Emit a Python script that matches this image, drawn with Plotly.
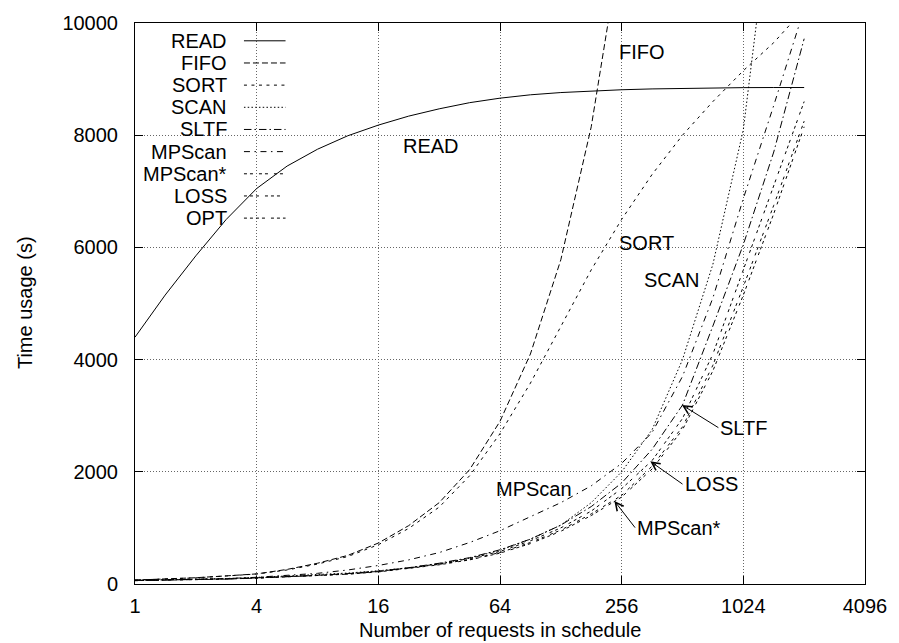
import math
import plotly.graph_objects as go

# ---------------- data ----------------
N = [1, 1.41, 2, 2.83, 4, 5.66, 8, 11.3, 16, 22.6, 32, 45.3, 64, 90.5, 128, 181,
     256, 362, 512, 724, 1024, 1448, 2048]

READ = [4400, 5150, 5850, 6500, 7050, 7450, 7750, 7990, 8180, 8340, 8470, 8580, 8660,
        8720, 8760, 8790, 8810, 8825, 8835, 8842, 8848, 8850, 8850]
FIFO = [70, 88, 112, 145, 180, 260, 370, 510, 730, 1040, 1450, 2040, 2900, 4100, 5780,
        8150, 11500]
SORT = [70, 87, 110, 143, 178, 250, 355, 490, 700, 990, 1370, 1930, 2680, 3580, 4600,
        5600, 6500, 7300, 8000, 8600, 9150, 9650, 10250]
SCAN = [65, 74, 84, 98, 118, 140, 165, 195, 235, 290, 360, 460, 600, 800, 1050, 1450,
        2000, 2750, 4000, 5700, 8100, 12500]
SLTF = [65, 72, 80, 92, 110, 130, 155, 185, 230, 290, 370, 470, 610, 800, 1050, 1380,
        1800, 2400, 3190, 4600, 6050, 7700, 9720]
MPSCAN = [65, 72, 82, 96, 120, 150, 190, 250, 330, 430, 560, 740, 950, 1200, 1450, 1750,
          2150, 2700, 3700, 5100, 6870, 8530, 10250]
MPSCAN_STAR = [60, 68, 76, 88, 106, 126, 150, 178, 220, 278, 350, 440, 560, 740, 960,
               1250, 1580, 2100, 2800, 3900, 5300, 6750, 8250]
LOSS = [62, 70, 78, 90, 108, 128, 152, 182, 225, 285, 360, 455, 580, 770, 1000, 1300,
        1700, 2200, 2950, 4100, 5600, 7100, 8600]
OPT = [60, 67, 75, 87, 105, 124, 147, 175, 215, 272, 342, 430, 550, 720, 940, 1220,
       1550, 2050, 2750, 3800, 5150, 6600, 8150]

X_TICKS = [1, 4, 16, 64, 256, 1024, 4096]
X_TICKTEXT = ["1", "4", "16", "64", "256", "1024", "4096"]
Y_TICKS = [0, 2000, 4000, 6000, 8000, 10000]
Y_TICKTEXT = ["0", "2000", "4000", "6000", "8000", "10000"]

NAMES = ["READ", "FIFO", "SORT", "SCAN", "SLTF", "MPScan", "MPScan*", "LOSS", "OPT"]
SERIES = [READ, FIFO, SORT, SCAN, SLTF, MPSCAN, MPSCAN_STAR, LOSS, OPT]

# gnuplot-like dash patterns
DASHES = ["solid", "6px,3px", "3px,4.5px", "1.5px,2.25px", "7.5px,3px,1.5px,3px",
          "6px,4.5px,1.5px,4.5px", "3px,3px,3px,6px", "3px,3px,3px,3px,3px,6px",
          "3px,3px,3px,3px,3px,3px,3px,6px"]

FONT = "Liberation Sans, Arial, Helvetica, sans-serif"
FS = 20

fig = go.Figure()
for name, ys, dash in zip(NAMES, SERIES, DASHES):
    fig.add_trace(go.Scatter(x=N[:len(ys)], y=ys, mode="lines", name=name,
                             line=dict(color="black", width=1, dash=dash),
                             showlegend=False, hoverinfo="skip"))

# plot area in pixels
L, R, T, B = 135, 872, 17, 584
W, H = R - L, B - T


def px(xp):
    return (xp - L) / W


def py(yp):
    return (B - yp) / H


annotations = []
shapes = []
# manual legend (text right aligned, sample on right)
for i, (name, dash) in enumerate(zip(NAMES, DASHES)):
    yy = 35 + i * 22.4
    annotations.append(dict(x=px(230), y=py(yy), xref="paper", yref="paper",
                            text=name, showarrow=False, xanchor="right",
                            yanchor="middle", font=dict(family=FONT, size=FS, color="black")))
    shapes.append(dict(type="line", xref="paper", yref="paper", x0=px(245), x1=px(287),
                       y0=py(yy), y1=py(yy), line=dict(color="black", width=1, dash=dash)))

LG2 = math.log10(2)


def lx(l2):
    return l2 * LG2


labels = [("READ", 4.38, 7800), ("FIFO", 7.915, 9489), ("SORT", 7.915, 6085),
          ("SCAN", 8.34, 5414)]
for t, l2, yv in labels:
    annotations.append(dict(x=lx(l2), y=yv, xref="x", yref="y", text=t, showarrow=False,
                            xanchor="left", yanchor="middle",
                            font=dict(family=FONT, size=FS, color="black")))
annotations.append(dict(x=lx(7.215), y=1693, xref="x", yref="y", text="MPScan",
                        showarrow=False, xanchor="right", yanchor="middle",
                        font=dict(family=FONT, size=FS, color="black")))

arrows = [("SLTF", 9.59, 2787, 8.99, 3192), ("LOSS", 9.0, 1781, 8.47, 2187),
          ("MPScan*", 8.22, 1005, 7.88, 1481)]
for t, tl2, ty, hl2, hy in arrows:
    annotations.append(dict(x=lx(hl2), y=hy, xref="x", yref="y", ax=lx(tl2), ay=ty,
                            axref="x", ayref="y", text=t, showarrow=True,
                            xanchor="left", yanchor="middle", arrowhead=5, arrowsize=1.6,
                            arrowwidth=1, arrowcolor="black", standoff=0, startstandoff=0,
                            font=dict(family=FONT, size=FS, color="black")))

# axis titles
annotations.append(dict(x=px(503), y=py(630), xref="paper", yref="paper",
                        text="Number of requests in schedule", showarrow=False,
                        xanchor="center", yanchor="middle",
                        font=dict(family=FONT, size=FS, color="black")))
annotations.append(dict(x=px(24), y=py(300), xref="paper", yref="paper",
                        text="Time usage (s)", showarrow=False, textangle=-90,
                        xanchor="center", yanchor="middle",
                        font=dict(family=FONT, size=FS, color="black")))

fig.update_layout(
    width=899, height=643,
    margin=dict(l=L, r=899 - R, t=T, b=643 - B, pad=0),
    paper_bgcolor="white", plot_bgcolor="white",
    font=dict(family=FONT, size=FS, color="black"),
    annotations=annotations, shapes=shapes,
    showlegend=False,
)
fig.update_xaxes(type="log", range=[0, math.log10(4096)], tickvals=X_TICKS,
                 ticktext=X_TICKTEXT, ticks="inside", ticklen=8, tickcolor="black",
                 showline=True, linecolor="black", linewidth=1, mirror="ticks",
                 showgrid=True, gridcolor="#666", gridwidth=1, griddash="1px,2px",
                 zeroline=False, ticklabelstandoff=4)
fig.update_yaxes(range=[0, 10000], tickvals=Y_TICKS, ticktext=Y_TICKTEXT,
                 ticks="inside", ticklen=8, tickcolor="black",
                 showline=True, linecolor="black", linewidth=1, mirror="ticks",
                 showgrid=True, gridcolor="#666", gridwidth=1, griddash="1px,2px",
                 zeroline=False, ticklabelstandoff=12)

fig.write_html("out.html")
